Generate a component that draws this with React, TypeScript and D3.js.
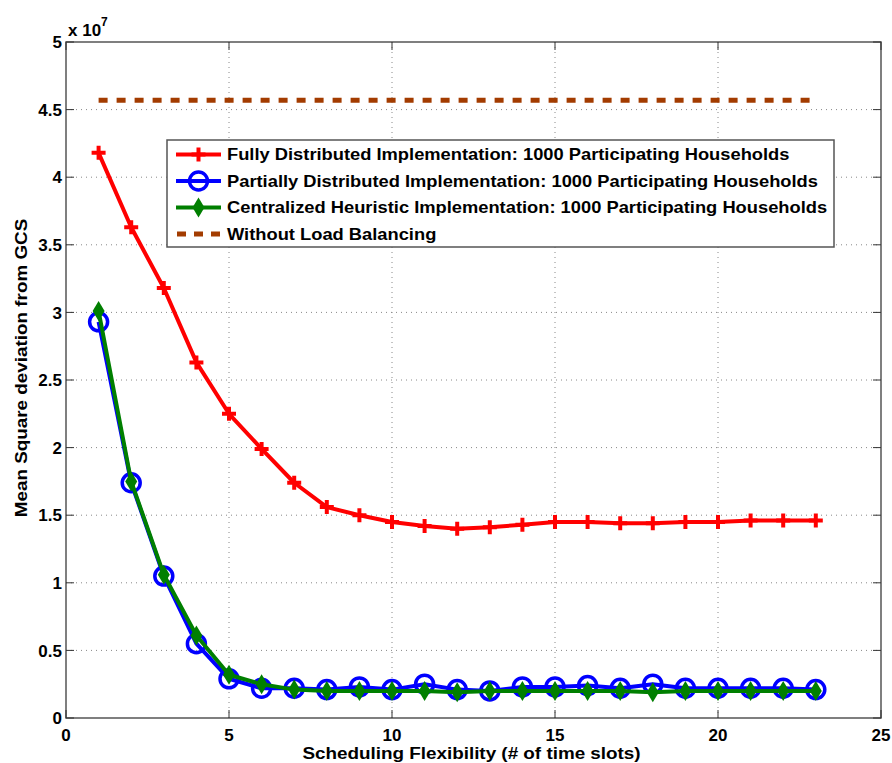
import React from 'react';
import * as d3 from 'd3';

// scheduling flexibility (# of time slots)
const slots = d3.range(1, 24);

// mean square deviation from GCS, in units of 1e7
const fullyDistributed = [
  4.18, 3.63, 3.18, 2.63, 2.25, 1.99, 1.74, 1.56, 1.5, 1.45, 1.42, 1.4, 1.41, 1.43, 1.45,
  1.45, 1.44, 1.44, 1.45, 1.45, 1.46, 1.46, 1.46,
];
const partiallyDistributed = [
  2.93, 1.74, 1.05, 0.55, 0.29, 0.22, 0.22, 0.21, 0.23, 0.21, 0.25, 0.21, 0.2, 0.23, 0.23,
  0.24, 0.22, 0.25, 0.22, 0.22, 0.22, 0.22, 0.21,
];
const centralizedHeuristic = [
  3.01, 1.75, 1.06, 0.61, 0.32, 0.25, 0.21, 0.2, 0.2, 0.2, 0.2, 0.19, 0.2, 0.2, 0.2, 0.2,
  0.2, 0.19, 0.2, 0.2, 0.2, 0.2, 0.2,
];
const withoutBalancing = 4.57;

const xTicks = [0, 5, 10, 15, 20, 25];
const yTicks = [0, 0.5, 1, 1.5, 2, 2.5, 3, 3.5, 4, 4.5, 5];

const legendLabels = [
  'Fully Distributed Implementation: 1000 Participating Households',
  'Partially Distributed Implementation: 1000 Participating Households',
  'Centralized Heuristic Implementation: 1000 Participating Households',
  'Without Load Balancing',
];

const RED = '#ff0000';
const BLUE = '#0000ff';
const GREEN = '#007f00';
const BROWN = '#a33c00';
const FONT = '"Liberation Sans", Arial, Helvetica, sans-serif';

const left = 66;
const right = 881;
const top = 42;
const bottom = 718;
// the original figure was stretched a little sideways
const stretch = 1.11;

const Plus = ({x, y}: {x: number; y: number}) => (
  <path d={`M${x - 7},${y}H${x + 7}M${x},${y - 7}V${y + 7}`} stroke={RED} strokeWidth={4} fill="none" />
);
const Circle = ({x, y}: {x: number; y: number}) => (
  <circle cx={x} cy={y} r={9} stroke={BLUE} strokeWidth={3.5} fill="none" />
);
const Diamond = ({x, y}: {x: number; y: number}) => (
  <path d={`M${x},${y - 10}L${x + 6},${y}L${x},${y + 10}L${x - 6},${y}Z`} fill={GREEN} />
);

export default function App() {
  const x = d3.scaleLinear().domain([0, 25]).range([left, right]);
  const y = d3.scaleLinear().domain([0, 5]).range([bottom, top]);
  const line = d3
    .line<number>()
    .x((_, i) => x(slots[i]))
    .y((d) => y(d));

  const legendX = 167;
  const legendY = 140;
  const legendRows = [154.5, 181, 207.5, 234];

  return (
    <svg
      width={892}
      height={763}
      style={{position: 'absolute', left: 0, top: 0, background: '#fff'}}
      fontFamily={FONT}
      fontWeight="bold">
      {/* grid */}
      {xTicks.slice(1, -1).map((t) => (
        <line key={'gx' + t} x1={x(t)} x2={x(t)} y1={top} y2={bottom} stroke="#888" strokeWidth={1} strokeDasharray="1 4" />
      ))}
      {yTicks.slice(1, -1).map((t) => (
        <line key={'gy' + t} x1={left} x2={right} y1={y(t)} y2={y(t)} stroke="#888" strokeWidth={1} strokeDasharray="1 4" />
      ))}

      {/* box and inward ticks */}
      <rect x={left} y={top} width={right - left} height={bottom - top} fill="none" stroke="#555" strokeWidth={1.5} />
      {xTicks.map((t) => (
        <g key={'tx' + t} stroke="#333" strokeWidth={1}>
          <line x1={x(t)} x2={x(t)} y1={bottom} y2={bottom - 8} />
          <line x1={x(t)} x2={x(t)} y1={top} y2={top + 8} />
        </g>
      ))}
      {yTicks.map((t) => (
        <g key={'ty' + t} stroke="#333" strokeWidth={1}>
          <line x1={left} x2={left + 8} y1={y(t)} y2={y(t)} />
          <line x1={right} x2={right - 8} y1={y(t)} y2={y(t)} />
        </g>
      ))}

      {/* tick labels */}
      {xTicks.map((t) => (
        <text key={'lx' + t} x={x(t)} y={741} textAnchor="middle" fontSize={17}>
          {t}
        </text>
      ))}
      {yTicks.map((t) => (
        <text key={'ly' + t} x={62} y={y(t)} dy="0.36em" textAnchor="end" fontSize={17}>
          {t}
        </text>
      ))}
      <text x={68} y={36} fontSize={17}>
        x 10
        <tspan dy={-10} fontSize={12}>
          7
        </tspan>
      </text>

      {/* axis titles */}
      <text
        transform={`translate(${(left + right) / 2 - 2},759) scale(${stretch},1)`}
        textAnchor="middle"
        fontSize={17}>
        Scheduling Flexibility (# of time slots)
      </text>
      <text
        transform={`translate(27,${(top + bottom) / 2 - 12}) rotate(-90) scale(${stretch},1)`}
        textAnchor="middle"
        fontSize={17}>
        Mean Square deviation from GCS
      </text>

      {/* series */}
      <path
        d={`M${x(1)},${y(withoutBalancing)}H${x(23)}`}
        stroke={BROWN}
        strokeWidth={5}
        strokeDasharray="9 9"
        fill="none"
      />
      <path d={line(fullyDistributed) ?? ''} stroke={RED} strokeWidth={4} fill="none" strokeLinejoin="round" />
      {fullyDistributed.map((v, i) => (
        <Plus key={'p' + i} x={x(slots[i])} y={y(v)} />
      ))}
      <path d={line(partiallyDistributed) ?? ''} stroke={BLUE} strokeWidth={4} fill="none" strokeLinejoin="round" />
      {partiallyDistributed.map((v, i) => (
        <Circle key={'c' + i} x={x(slots[i])} y={y(v)} />
      ))}
      <path d={line(centralizedHeuristic) ?? ''} stroke={GREEN} strokeWidth={4} fill="none" strokeLinejoin="round" />
      {centralizedHeuristic.map((v, i) => (
        <Diamond key={'d' + i} x={x(slots[i])} y={y(v)} />
      ))}

      {/* legend */}
      <rect x={legendX} y={legendY} width={834 - legendX} height={247 - legendY} fill="#fff" stroke="#555" strokeWidth={1.5} />
      <line x1={176} x2={221} y1={legendRows[0]} y2={legendRows[0]} stroke={RED} strokeWidth={4} />
      <Plus x={198.5} y={legendRows[0]} />
      <line x1={176} x2={221} y1={legendRows[1]} y2={legendRows[1]} stroke={BLUE} strokeWidth={4} />
      <Circle x={198.5} y={legendRows[1]} />
      <line x1={176} x2={221} y1={legendRows[2]} y2={legendRows[2]} stroke={GREEN} strokeWidth={4} />
      <Diamond x={198.5} y={legendRows[2]} />
      <line x1={177} x2={221} y1={legendRows[3]} y2={legendRows[3]} stroke={BROWN} strokeWidth={5} strokeDasharray="9 8" />
      {legendLabels.map((label, i) => (
        <text
          key={label}
          transform={`translate(227,${legendRows[i]}) scale(${stretch},1)`}
          dy="0.36em"
          fontSize={16.5}>
          {label}
        </text>
      ))}
    </svg>
  );
}
